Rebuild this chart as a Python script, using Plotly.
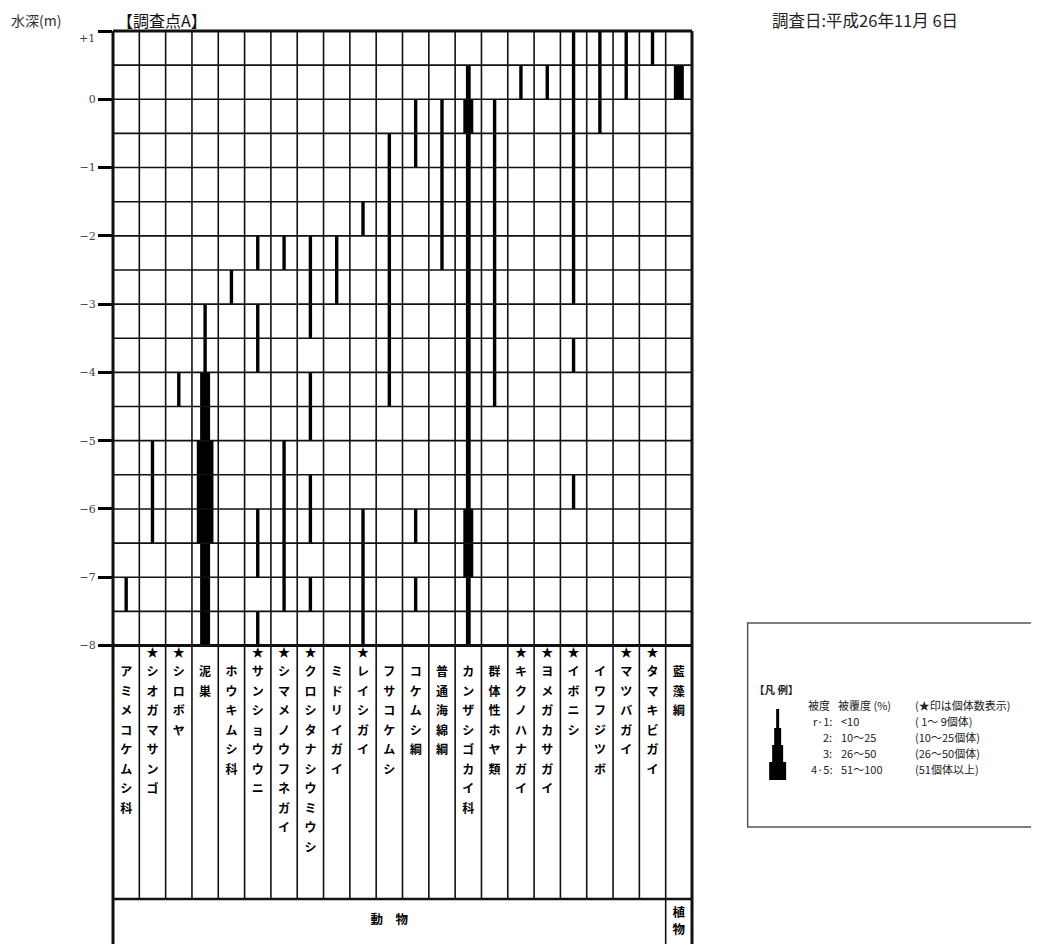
import plotly.graph_objects as go

# ---------------- data ----------------
species = ["アミメコケムシ科", "シオガマサンゴ", "シロボヤ", "泥巣", "ホウキムシ科",
           "サンショウウニ", "シマメノウフネガイ", "クロシタナシウミウシ", "ミドリイガイ",
           "レイシガイ", "フサコケムシ", "コケムシ綱", "普通海綿綱", "カンザシゴカイ科",
           "群体性ホヤ類", "キクノハナガイ", "ヨメガカサガイ", "イボニシ", "イワフジツボ",
           "マツバガイ", "タマキビガイ", "藍藻綱"]
counted = [False, True, True, False, False, True, True, True, False, True, False,
           False, False, False, False, True, True, True, False, True, True, False]
group_names = ["動　物", "植物"]
group_first = [0, 21]
group_last = [20, 21]

# segments: column index, top depth (m), bottom depth (m), coverage class (1=r·1, 2, 3, 4=4·5)
seg_col = [0, 1, 2,
           3, 3, 3, 3,
           4,
           5, 5, 5, 5,
           6, 6,
           7, 7, 7, 7,
           8,
           9, 9,
           10,
           11, 11, 11,
           12,
           13, 13, 13, 13, 13,
           14, 15, 16,
           17, 17, 17,
           18, 19, 20, 21]
seg_top = [-7, -5, -4,
           -3, -4, -5, -6.5,
           -2.5,
           -2, -3, -6, -7.5,
           -2, -5,
           -2, -4, -5.5, -7,
           -2,
           -1.5, -6,
           -0.5,
           0, -6, -7,
           0,
           0.5, 0, -0.5, -6, -7,
           0, 0.5, 0.5,
           1, -3.5, -5.5,
           1, 1, 1, 0.5]
seg_bottom = [-7.5, -6.5, -4.5,
              -4, -5, -6.5, -8,
              -3,
              -2.5, -4, -7, -8,
              -2.5, -7.5,
              -3.5, -5, -6.5, -7.5,
              -3,
              -2, -8,
              -4.5,
              -1, -6.5, -7.5,
              -2.5,
              0, -0.5, -6, -7, -8,
              -4.5, 0, 0,
              -3, -4, -6,
              -0.5, 0, 0.5, 0]
seg_level = [1, 1, 1,
             1, 3, 4, 3,
             1,
             1, 1, 1, 1,
             1, 1,
             1, 1, 1, 1,
             1,
             1, 1,
             1,
             1, 1, 1,
             1,
             2, 3, 2, 3, 2,
             1, 1, 1,
             1, 1, 1,
             1, 1, 1, 3]

depth_ticks = [1, 0, -1, -2, -3, -4, -5, -6, -7, -8]
depth_tick_text = ["+1", "0", "−1", "−2", "−3", "−4", "−5", "−6", "−7", "−8"]

legend_levels = ["r·1:", "2:", "3:", "4·5:"]
legend_cover = ["<10", "10〜25", "26〜50", "51〜100"]
legend_count = ["( 1〜 9個体)", "(10〜25個体)", "(26〜50個体)", "(51個体以上)"]

# ---------------- geometry (window pixels; page body has an 8px margin) ----------------
OX, OY = 8, 8
WIN_W, WIN_H = 1039, 944
W, H = WIN_W - OX, WIN_H - OY
GRID_L, GRID_R, GRID_T = 113, 692.3, 31
L = GRID_L - OX
T = GRID_T - OY
B = 0
PW = GRID_R - GRID_L
PH = H - T - B
NCOL = len(species)
COL_PX = PW / NCOL
PX_PER_M = (645.5 - 31) / 9.0
Y_TOP = 1.0
Y_BOT = Y_TOP - PH / PX_PER_M
Y_LAB = Y_TOP - (899 - GRID_T) / PX_PER_M
LEVEL_PX = {1: 3.4, 2: 4.8, 3: 10.0, 4: 16.7}

def pyv(py):  # window pixel row -> data y
    return Y_TOP - (py - GRID_T) / PX_PER_M

def xpap(x):  # data x -> paper
    return (x + 0.5) / NCOL

def ypap(y):  # data y -> paper
    return (y - Y_BOT) / (Y_TOP - Y_BOT)

def pxp(px):  # window pixel column -> paper
    return (px - GRID_L) / PW

def pyp(py):  # window pixel row -> paper
    return (WIN_H - B - py) / PH

fig = go.Figure()

# bars
fig.add_trace(go.Bar(
    x=seg_col,
    y=[t - b for t, b in zip(seg_top, seg_bottom)],
    base=seg_bottom,
    width=[LEVEL_PX[l] / COL_PX for l in seg_level],
    marker=dict(color="black", line=dict(width=0)),
    hoverinfo="skip", showlegend=False,
))

# column labels (vertical text)
lx, ly, lt = [], [], []
for i, name in enumerate(species):
    if counted[i]:
        lx.append(i); ly.append(pyv(654)); lt.append("★")
    for k, ch in enumerate(name):
        lx.append(i); ly.append(pyv(673 + 19.5 * k)); lt.append(ch)
fig.add_trace(go.Scatter(
    x=lx, y=ly, text=lt, mode="text",
    textfont=dict(family="Noto Sans CJK JP", size=12, color="black", weight=700),
    hoverinfo="skip", showlegend=False,
))

# group labels
gx, gy, gt = [], [], []
for name, a, b in zip(group_names, group_first, group_last):
    if a == b:
        for k, ch in enumerate(name):
            gx.append(a); gy.append(pyv(914 + 17 * k)); gt.append(ch)
    else:
        gx.append((a + b) / 2); gy.append(pyv(921)); gt.append(name)
fig.add_trace(go.Scatter(
    x=gx, y=gy, text=gt, mode="text",
    textfont=dict(family="Noto Sans CJK JP", size=12.5, color="black", weight=700),
    hoverinfo="skip", showlegend=False,
))

# table lines
shapes = []
def line(x0, y0, x1, y1, w, color="#111"):
    shapes.append(dict(type="line", xref="paper", yref="paper",
                       x0=x0, y0=y0, x1=x1, y1=y1,
                       line=dict(color=color, width=w), layer="above"))

for k in range(19):
    d = Y_TOP - 0.5 * k
    line(0, ypap(d), 1, ypap(d), 3 if k in (0, 18) else 1.6)
for i in range(1, NCOL):
    xb = i - 0.5
    y_end = Y_BOT if i == group_first[1] else Y_LAB
    line(xpap(xb), ypap(Y_TOP), xpap(xb), ypap(y_end), 1.6)
line(0, ypap(Y_TOP), 0, ypap(Y_BOT) - 0.01, 3)
line(1, ypap(Y_TOP), 1, ypap(Y_BOT) - 0.01, 3)
line(0, ypap(Y_LAB), 1, ypap(Y_LAB), 2.5)

# legend box and symbol
shapes.append(dict(type="rect", xref="paper", yref="paper",
                   x0=pxp(748), x1=pxp(1050), y0=pyp(827), y1=pyp(623),
                   line=dict(color="#555", width=1.5), fillcolor="rgba(0,0,0,0)"))
sym_edges = [709, 728, 745, 762, 780]
for j, lev in enumerate([1, 2, 3, 4]):
    wpx = [3, 7, 11, 17][j]
    shapes.append(dict(type="rect", xref="paper", yref="paper",
                       x0=pxp(778 - wpx / 2), x1=pxp(778 + wpx / 2),
                       y0=pyp(sym_edges[j + 1]), y1=pyp(sym_edges[j]),
                       line=dict(width=0), fillcolor="black"))

annotations = []
def ann(text, px, py, size, xanchor="left", family="Noto Sans CJK JP", color="#222", weight=400):
    annotations.append(dict(text=text, x=pxp(px), y=pyp(py), xref="paper", yref="paper",
                            xanchor=xanchor, yanchor="middle", showarrow=False,
                            font=dict(family=family, size=size, color=color, weight=weight)))

ann("水深(m)", 9, 20, 14, color="#333")
ann("【調査点A】", 115, 20.5, 16, color="#111")
ann("調査日:平成26年11月 6日", 770, 20.5, 16.5, color="#222")
ann("+1", 97, 38, 11, xanchor="right", family="DejaVu Serif", color="#444")

ann("【凡 例】", 752, 689, 10.5, color="#222", weight=700)
legend_rows = [705, 721, 737, 753, 769]
ann("被度", 806, legend_rows[0], 11)
ann("被覆度 (%)", 836, legend_rows[0], 11)
ann("(★印は個体数表示)", 913, legend_rows[0], 11)
for j in range(4):
    ann(legend_levels[j], 834, legend_rows[j + 1], 11, xanchor="right")
    ann(legend_cover[j], 839, legend_rows[j + 1], 11)
    ann(legend_count[j], 913, legend_rows[j + 1], 11)

fig.update_layout(
    width=W, height=H,
    margin=dict(l=L, r=W - L - PW, t=T, b=B, autoexpand=False),
    paper_bgcolor="white", plot_bgcolor="white",
    barmode="overlay",
    shapes=shapes, annotations=annotations,
    xaxis=dict(range=[-0.5, NCOL - 0.5], visible=False, fixedrange=True),
    yaxis=dict(range=[Y_BOT, Y_TOP], showgrid=False, zeroline=False, showline=False,
               tickvals=depth_ticks, ticktext=[""] + depth_tick_text[1:],
               ticks="outside", ticklen=14, tickwidth=3, tickcolor="black",
               tickfont=dict(family="DejaVu Serif", size=11, color="#444"),
               fixedrange=True),
    showlegend=False,
)

fig.write_html("out.html")
